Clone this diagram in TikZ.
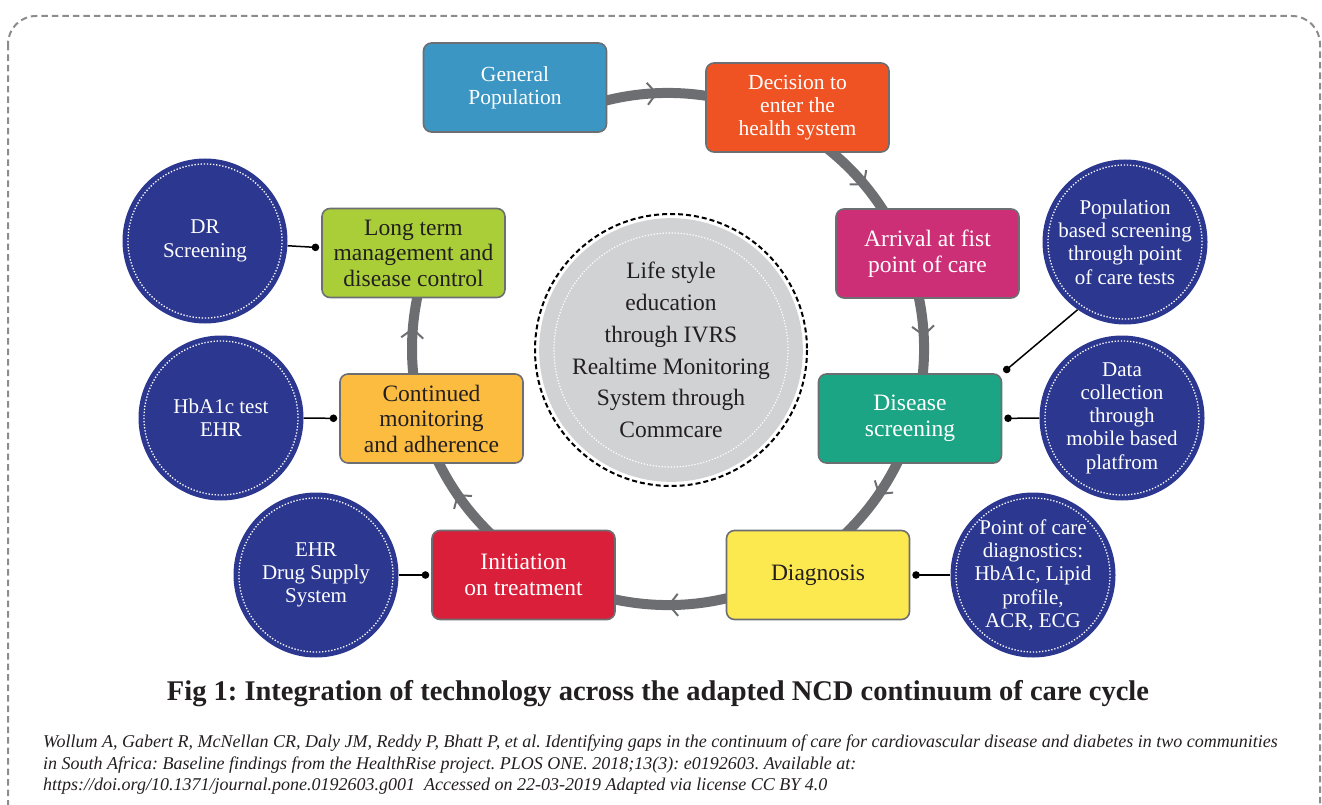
\documentclass[tikz,border=0pt]{standalone}
\usepackage{fontspec}
\setmainfont{Liberation Serif}
\usetikzlibrary{calc,arrows.meta}

\definecolor{ringgray}{HTML}{6D6E71}
\definecolor{framegray}{HTML}{8C8C8C}
\definecolor{inkdark}{HTML}{231F20}
\definecolor{navy}{HTML}{2C3790}
\definecolor{hubgray}{HTML}{D1D2D4}
\definecolor{cGP}{HTML}{3C96C3}
\definecolor{cDec}{HTML}{EF5323}
\definecolor{cArr}{HTML}{CD2F77}
\definecolor{cScr}{HTML}{1BA584}
\definecolor{cDia}{HTML}{FCE94F}
\definecolor{cIni}{HTML}{DA1F3A}
\definecolor{cCon}{HTML}{FBBC40}
\definecolor{cLong}{HTML}{A9CE38}

\begin{document}
\frenchspacing
\begin{tikzpicture}[x=1pt,y=-1pt,
  stage/.style={draw=ringgray, line width=1.6pt, rounded corners=8pt,
    minimum width=183pt, minimum height=89pt, align=center, inner sep=2pt},
  bigtxt/.style={font=\fontsize{23.5}{25.5}\selectfont},
  smalltxt/.style={font=\fontsize{21.5}{23}\selectfont},
  tech/.style={circle, fill=navy, minimum size=165pt, inner sep=0pt,
    text=white, align=center, font=\fontsize{21}{23.3}\selectfont,
    path picture={\draw[white, line width=1.3pt, dash pattern=on 1.3pt off 1.8pt]
      (path picture bounding box.center) circle (77pt);}},
  ring/.style={draw=ringgray, line width=10pt},
  chev/.style={draw=ringgray, line width=2pt},
  conn/.style={draw=black, line width=1.5pt, -{Circle[length=7.5pt]}, shorten >=2pt},
]
\useasboundingbox (0,0) rectangle (1322,805);
\begin{scope}
\clip (0,0) rectangle (1322,805);
% outer dashed frame, its lower edge runs off the page
\draw[framegray, line width=2pt, dash pattern=on 6.5pt off 4pt, rounded corners=28pt]
  (8,16) rectangle (1320,835);
\end{scope}

% care cycle ring
\coordinate (c) at (668,349);
\draw[ring] (c) ++(245:256) arc[start angle=245, end angle=565, radius=256];
\foreach \a in {266.5,319,356,33.6,88.9,144.3,183.6}{
  \draw[chev] ($(c)+(\a:256)+({\a+90}:-5)+(\a:11)$) -- ($(c)+(\a:256)+({\a+90}:4)$)
    -- ($(c)+(\a:256)+({\a+90}:-5)+(\a:-11)$);
}

% central hub
\node[circle, fill=hubgray, minimum size=244pt, inner sep=0pt, text=inkdark, align=center,
  font=\fontsize{23.5}{31.7}\selectfont] (hub) at (671,350)
  {Life style\\education\\through IVRS\\Realtime Monitoring\\System through\\Commcare};
\draw[white, line width=1.2pt, dash pattern=on 1.2pt off 1.8pt] (hub.center) circle (117);
\draw[black, line width=2pt, dash pattern=on 5pt off 3pt] (hub.center) circle (136);

% stages of the continuum
\node[stage, fill=cGP, text=white, smalltxt] (gp) at (515,87.5) {General\\Population};
\node[stage, fill=cDec, text=white, smalltxt] (dec) at (797.5,107.5) {Decision to\\enter the\\health system};
\node[stage, fill=cArr, text=white, bigtxt] (arr) at (927.5,253.5) {Arrival at fist\\point of care};
\node[stage, fill=cScr, text=white, bigtxt] (scr) at (910,418.5) {Disease\\screening};
\node[stage, fill=cDia, text=inkdark, bigtxt] (dia) at (818,575) {Diagnosis};
\node[stage, fill=cIni, text=white, bigtxt] (ini) at (523.5,575) {Initiation\\on treatment};
\node[stage, fill=cCon, text=inkdark, bigtxt] (con) at (431.5,418.5) {Continued\\monitoring\\and adherence};
\node[stage, fill=cLong, text=inkdark, bigtxt] (lt) at (413.5,253) {Long term\\management and\\disease control};

% technology interventions
\node[tech] (dr) at (205,241) {DR\\Screening};
\node[tech] (hba) at (221,418) {HbA1c test\\EHR};
\node[tech] (ehr) at (316,575) {EHR\\Drug Supply\\System};
\node[tech] (poc) at (1033,575) {Point of care\\diagnostics:\\HbA1c, Lipid\\profile,\\ACR, ECG};
\node[tech] (mob) at (1122,418) {Data\\collection\\through\\mobile based\\platfrom};
\node[tech] (pop) at (1125,242) {Population\\based screening\\through point\\of care tests};

% links between interventions and stages
\draw[conn] (dr) -- (lt);
\draw[conn] (hba) -- (con);
\draw[conn] (ehr) -- (ini);
\draw[conn] (poc) -- (dia);
\draw[conn] (mob) -- (scr);
\draw[conn] (pop.235) -- (scr.north east);

% caption and source
\node[anchor=base, text=inkdark, font=\bfseries\fontsize{28.5}{30}\selectfont] (title) at (658,700)
  {Fig 1: Integration of technology across the adapted NCD continuum of care cycle};
\node[anchor=north west, inner sep=0pt, align=left, text=inkdark,
  font=\itshape\fontsize{18}{21.3}\selectfont] (src) at (43,735)
  {Wollum A, Gabert R, McNellan CR, Daly JM, Reddy P, Bhatt P, et al. Identifying gaps in the continuum of care for cardiovascular disease and diabetes in two communities\\
   in South Africa: Baseline findings from the HealthRise project. PLOS ONE. 2018;13(3): e0192603. Available at:\\
   https://doi.org/10.1371/journal.pone.0192603.g001\ \ Accessed on 22-03-2019 Adapted via license CC BY 4.0};
\end{tikzpicture}
\end{document}
